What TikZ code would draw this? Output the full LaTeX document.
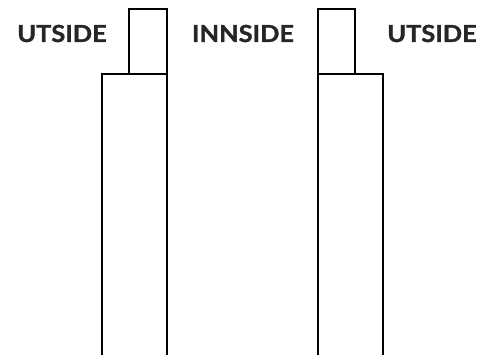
\documentclass[tikz,border=0pt]{standalone}
\usepackage{fontspec}
\setmainfont{Lato}
\newfontfamily\labelfont[FakeBold=1.2]{Lato Bold}
\newcommand{\sidelabel}[1]{\scalebox{1.08}[1]{#1}}
\begin{document}
\begin{tikzpicture}
	[
	x=1pt, y=-1pt,
	every node/.style={font=\labelfont\fontsize{23.5}{28}\selectfont, text=black!85, inner sep=0pt, anchor=base},
	wall/.style={draw=black, line width=1.1pt}
	]
		\useasboundingbox (0,0) rectangle (493,355);

		% left wall
		\draw [wall] (129,74) -- (129,9) -- (167,9) -- (167,355);
		\draw [wall] (102,355) -- (102,74) -- (167,74);

		% right wall
		\draw [wall] (318,355) -- (318,9) -- (355,9) -- (355,74);
		\draw [wall] (318,74) -- (383,74) -- (383,355);

		% labels
		\node (out1) at (62,42) {\sidelabel{UTSIDE}};
		\node (inn) at (243,42) {\sidelabel{INNSIDE}};
		\node (out2) at (432,42) {\sidelabel{UTSIDE}};
\end{tikzpicture}
\end{document}
